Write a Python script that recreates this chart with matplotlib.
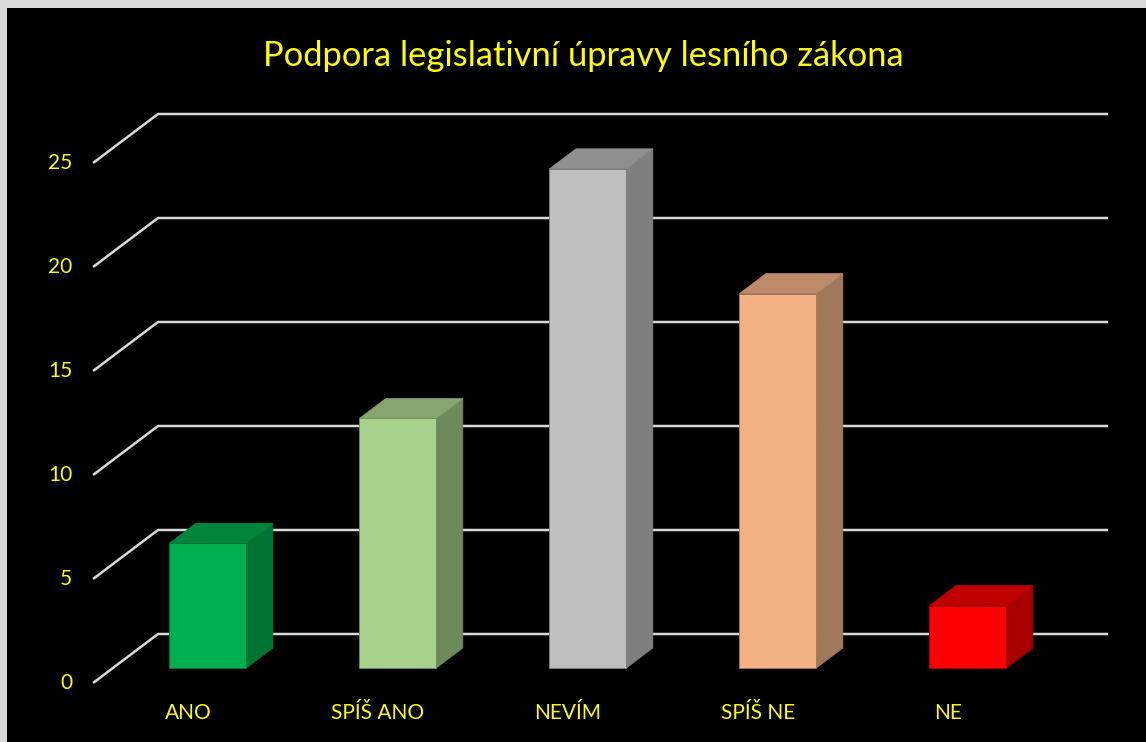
import numpy as np
import matplotlib.pyplot as plt
from matplotlib.patches import Polygon, Rectangle

# chart data
categories = ['ANO', 'SPÍŠ ANO', 'NEVÍM', 'SPÍŠ NE', 'NE']
values = [6, 12, 24, 18, 3]
y_ticks = [0, 5, 10, 15, 20, 25]

front_colors = ['#00B050', '#A9D18E', '#BFBFBF', '#F4B183', '#FF0000']
top_colors = ['#00853C', '#86A571', '#8F8F8F', '#BD8B6A', '#C00000']
side_colors = ['#007434', '#6D8A5B', '#7F7F7F', '#A0785A', '#A80000']

title = 'Podpora legislativní úpravy lesního zákona'

plt.rcParams['font.family'] = ['Lato', 'DejaVu Sans']

fig = plt.figure(figsize=(11.46, 7.42), dpi=100, facecolor='black')
ax = fig.add_axes([0, 0, 1, 1])
ax.set_facecolor('black')
# x: category index, y: value; front plane of the 3D box
ax.set_xlim((0 - 188) / 190, (1146 - 188) / 190)
ax.set_ylim((683 - 742) / 20.8, 683 / 20.8)
ax.axis('off')

# depth vector of the 3D floor (in data units)
dx, dv = 65 / 190, 49 / 20.8
x0, x1 = -0.5, len(categories) - 0.5

# gridlines: diagonal on the left wall, then along the back wall
for t in y_ticks:
    ax.plot([x0, x0 + dx, x1 + dx], [t, t + dv, t + dv],
            color='#D9D9D9', lw=1.8, solid_capstyle='butt', zorder=1)
    ax.text(x0 - 0.11, t, str(t), color='#FFFF00', fontsize=15,
            ha='right', va='center')

# 3D bars
w = 0.405
f1, f2 = 0.306, 0.714
for i, (val, fc, tc, sc) in enumerate(zip(values, front_colors, top_colors, side_colors)):
    xl, xr = i - w / 2, i + w / 2
    a1, b1 = f1 * dx, f1 * dv
    a2, b2 = f2 * dx, f2 * dv
    side = [(xr + a1, b1), (xr + a2, b2), (xr + a2, val + b2), (xr + a1, val + b1)]
    top = [(xl + a1, val + b1), (xr + a1, val + b1), (xr + a2, val + b2), (xl + a2, val + b2)]
    ax.add_patch(Polygon(side, closed=True, facecolor=sc, edgecolor=sc, lw=0.5, zorder=2))
    ax.add_patch(Polygon(top, closed=True, facecolor=tc, edgecolor=tc, lw=0.5, zorder=2))
    ax.add_patch(Rectangle((xl + a1, b1), w, val, facecolor=fc, edgecolor=sc, lw=0.6, zorder=3))
    ax.text(i, -1.45, categories[i], color='#FFFF00', fontsize=15, ha='center', va='center')

fig.text(583 / 1146, 1 - 56 / 742, title, color='#FFFF00', fontsize=24.8, ha='center', va='center')

# light frame on the top and left edges
fig.patches.append(Rectangle((0, 1 - 8 / 742), 1, 8 / 742, transform=fig.transFigure,
                             facecolor='#D9D9D9', edgecolor='none'))
fig.patches.append(Rectangle((0, 0), 7 / 1146, 1, transform=fig.transFigure,
                             facecolor='#D9D9D9', edgecolor='none'))

fig.savefig('out.png', dpi=100, facecolor='black')
